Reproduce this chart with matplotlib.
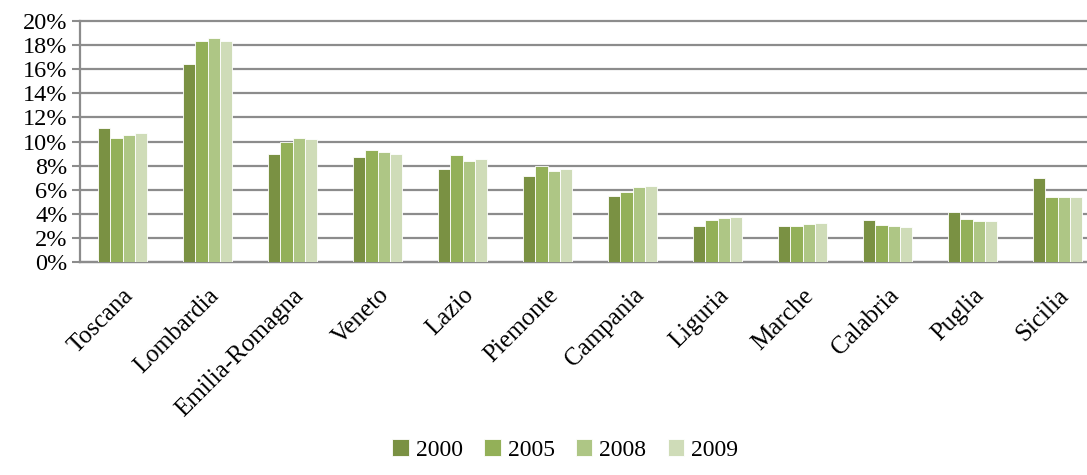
import numpy as np
import matplotlib.pyplot as plt

regions = ['Toscana', 'Lombardia', 'Emilia-Romagna', 'Veneto', 'Lazio', 'Piemonte',
           'Campania', 'Liguria', 'Marche', 'Calabria', 'Puglia', 'Sicilia']
years = ['2000', '2005', '2008', '2009']
v2000 = [11.1, 16.4, 9.0, 8.7, 7.7, 7.1, 5.45, 3.0, 3.0, 3.5, 4.15, 6.97]
v2005 = [10.25, 18.35, 10.0, 9.3, 8.85, 7.97, 5.83, 3.46, 3.0, 3.1, 3.57, 5.37]
v2008 = [10.5, 18.55, 10.3, 9.1, 8.38, 7.58, 6.22, 3.65, 3.18, 2.96, 3.43, 5.37]
v2009 = [10.7, 18.3, 10.2, 9.0, 8.57, 7.72, 6.31, 3.75, 3.24, 2.9, 3.4, 5.42]
colors = ['#7a9143', '#93b058', '#aec685', '#cfdcb8']

plt.rcParams['font.family'] = ['Liberation Serif', 'DejaVu Serif']

fig = plt.figure(figsize=(10.87, 4.75), dpi=100)
ax = fig.add_axes([0.0736, 0.4484, 0.9384, 0.5074])

x = np.arange(len(regions))
w = 0.142
series = [v2000, v2005, v2008, v2009]
for i, vals in enumerate(series):
    ax.bar(x + (i - 1.5) * w, vals, width=w, color=colors[i], edgecolor='white',
           linewidth=0.6, label=years[i], zorder=3)

ax.set_xlim(-0.5, len(regions) - 0.5)
ax.set_ylim(0, 20)
ax.set_yticks(np.arange(0, 21, 2))
ax.set_yticklabels([f'{t}%' for t in range(0, 21, 2)], fontsize=17.5)
ax.yaxis.grid(True, color='#8c8c8c', linewidth=1.6, zorder=0)
for gl in ax.get_ygridlines():
    gl.set_clip_on(False)
ax.set_axisbelow(True)
ax.set_xticks(x)
ax.set_xticklabels(regions, rotation=45, ha='right', rotation_mode='anchor', fontsize=18)
ax.tick_params(axis='x', length=0, pad=16)
ax.tick_params(axis='y', length=6, width=1.5, color='#8c8c8c', pad=3)
for s in ['top', 'right']:
    ax.spines[s].set_visible(False)
ax.spines['left'].set_color('#8c8c8c')
ax.spines['left'].set_linewidth(1.6)
ax.spines['bottom'].set_color('#8c8c8c')
ax.spines['bottom'].set_linewidth(1.6)

fig.legend(loc='lower center', bbox_to_anchor=(0.52, -0.015), ncol=4, frameon=False,
           fontsize=17, handlelength=0.7, handleheight=0.7, handletextpad=0.3,
           columnspacing=0.9)

fig.savefig('out.png', dpi=100)
